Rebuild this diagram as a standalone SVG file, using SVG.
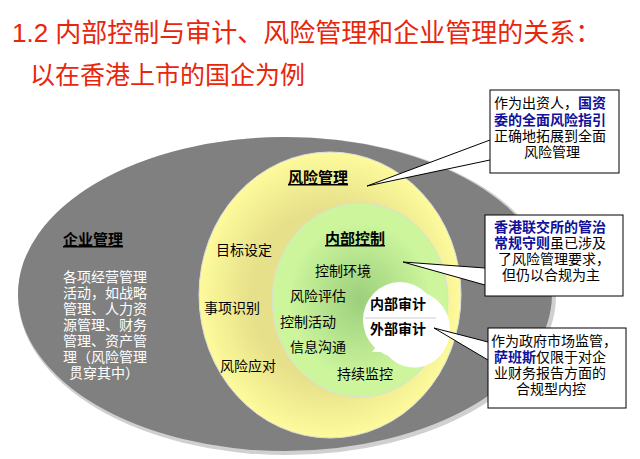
<svg xmlns="http://www.w3.org/2000/svg" width="640" height="459" viewBox="0 0 640 459">
<style>
text{font-family:"Liberation Sans","Noto Sans CJK SC",sans-serif;font-size:14px;fill:#000}
.t{fill:#e8260c;font-size:26px}
.w{fill:#fff}
.h{font-weight:bold;text-decoration:underline;font-size:15px}
.b{fill:#10109a;font-weight:bold}
.box{fill:#fff;stroke:#000;stroke-width:1}
</style>
<defs>
<radialGradient id="gy" cx="0.5" cy="0.5" r="0.5"><stop offset="0.6" stop-color="#e6e08a"/><stop offset="1" stop-color="#fdfb9c"/></radialGradient>
<radialGradient id="gg" cx="0.5" cy="0.5" r="0.5"><stop offset="0" stop-color="#9ccf7c"/><stop offset="0.8" stop-color="#ccf59c"/></radialGradient>
</defs>
<rect width="640" height="459" fill="#fff"/>
<text class="t" x="12" y="42">1.2 内部控制与审计、风险管理和企业管理的关系：</text>
<text class="t" x="30" y="84" style="font-size:25px">以在香港上市的国企为例</text>
<g id="enterprise">
<ellipse cx="287" cy="296" rx="269" ry="159" fill="#d0d0d0"/>
<ellipse cx="285" cy="294" rx="267" ry="157" fill="#808080"/>
<text class="h" x="63" y="245">企业管理</text>
<text class="w" x="63" y="282">各项经营管理</text>
<text class="w" x="63" y="298">活动，如战略</text>
<text class="w" x="63" y="314">管理、人力资</text>
<text class="w" x="63" y="330">源管理、财务</text>
<text class="w" x="63" y="346">管理、资产管</text>
<text class="w" x="63" y="362">理（风险管理</text>
<text class="w" x="69" y="378">贯穿其中）</text>
</g>
<g id="risk">
<ellipse cx="330" cy="295" rx="131" ry="143" fill="url(#gy)" stroke="#ddd"/>
<text class="h" x="288" y="183">风险管理</text>
<text x="216" y="255">目标设定</text>
<text x="204" y="313">事项识别</text>
<text x="220" y="371">风险应对</text>
</g>
<g id="internal">
<ellipse cx="360" cy="300" rx="88" ry="97" fill="url(#gg)" stroke="#ddd"/>
<text class="h" x="325" y="244">内部控制</text>
<text x="315" y="276">控制环境</text>
<text x="290" y="301">风险评估</text>
<text x="280" y="327">控制活动</text>
<text x="290" y="352">信息沟通</text>
<text x="337" y="379">持续监控</text>
</g>
<g id="audit">
<path d="M372,352 L380,342 A36,38 0 1 1 385,352 Z" fill="#fff"/>
<ellipse cx="400" cy="320" rx="37" ry="38" fill="#fff"/>
<line x1="365" y1="318" x2="436" y2="318" stroke="#ccc"/>
<text x="370" y="309" font-weight="bold">内部审计</text>
<text x="370" y="334" font-weight="bold">外部审计</text>
</g>
<g id="connectors">
<path d="M490,140 L367,186 L490,160" fill="#fff" stroke="#000"/>
<path d="M485,268 L403,262 L485,285" fill="#fff" stroke="#000"/>
<path d="M488,342 L434,328 L488,360" fill="#fff" stroke="#000"/>
</g>
<g id="callout1">
<rect class="box" x="490" y="90" width="129" height="83"/>
<text x="494" y="108">作为出资人，<tspan class="b">国资</tspan></text>
<text x="494" y="125" class="b">委的全面风险指引</text>
<text x="494" y="141">正确地拓展到全面</text>
<text x="524" y="157">风险管理</text>
</g>
<g id="callout2">
<rect class="box" x="485" y="215" width="138" height="81"/>
<text x="494" y="232" class="b">香港联交所的管治</text>
<text x="494" y="248"><tspan class="b">常规守则</tspan>虽已涉及</text>
<text x="498" y="264">了风险管理要求，</text>
<text x="502" y="280">但仍以合规为主</text>
</g>
<g id="callout3">
<rect class="box" x="488" y="328" width="138" height="80"/>
<text x="491" y="346">作为政府市场监管，</text>
<text x="494" y="362"><tspan class="b">萨班斯</tspan>仅限于对企</text>
<text x="494" y="378">业财务报告方面的</text>
<text x="516" y="394">合规型内控</text>
</g>
</svg>
